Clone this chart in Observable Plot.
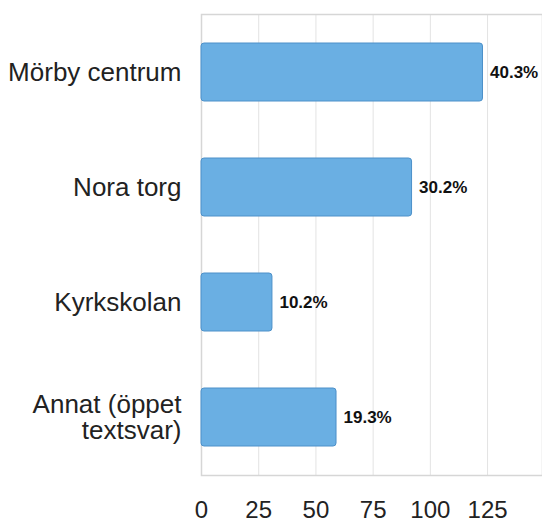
<!DOCTYPE html>
<html>
<head>
<meta charset="utf-8">
<script src="https://cdn.jsdelivr.net/npm/d3@7"></script>
<script src="https://cdn.jsdelivr.net/npm/@observablehq/plot@0.6"></script>
<style>
  html, body { margin: 0; padding: 0; background: #fff; }
  svg { overflow: visible; }
</style>
</head>
<body>
<div id="chart"></div>
<script>
const categories = ["Mörby centrum", "Nora torg", "Kyrkskolan", "Annat (öppet textsvar)"];
const labels = ["Mörby centrum", "Nora torg", "Kyrkskolan", "Annat (öppet\ntextsvar)"];
const counts = [123, 92, 31, 59];
const percents = ["40.3%", "30.2%", "10.2%", "19.3%"];
const xTicks = [0, 25, 50, 75, 100, 125];

const data = categories.map((c, i) => ({cat: c, label: labels[i], n: counts[i], pct: percents[i]}));

const chart = Plot.plot({
  width: 542,
  height: 519,
  marginLeft: 201,
  marginRight: 0,
  marginTop: 14,
  marginBottom: 44,
  style: {fontFamily: "'Liberation Sans', Arial, sans-serif", fontSize: "24px", color: "#222", background: "#fff"},
  x: {domain: [0, 149], ticks: xTicks, tickSize: 0, tickPadding: 25, tickFormat: d => d, label: null},
  y: {domain: categories, paddingInner: 0.5, paddingOuter: 0.25, axis: null},
  marks: [
    Plot.ruleX(xTicks, {stroke: "#e3e3e3", strokeWidth: 1}),
    Plot.frame({stroke: "#d6d6d6", strokeWidth: 1.5}),
    Plot.barX(data, {y: "cat", x: "n", fill: "#6aafe3", stroke: "#4c90c9", strokeWidth: 1, rx: 3}),
    Plot.text(data, {y: "cat", x: "n", text: "pct", dx: 7, textAnchor: "start", fontWeight: "bold", fontSize: 17, fill: "#111"}),
    Plot.text(data, {y: "cat", text: "label", frameAnchor: "left", textAnchor: "end", dx: -20, fontSize: 26, lineHeight: 1.0, fill: "#222"})
  ]
});
document.getElementById("chart").appendChild(chart);
</script>
</body>
</html>
